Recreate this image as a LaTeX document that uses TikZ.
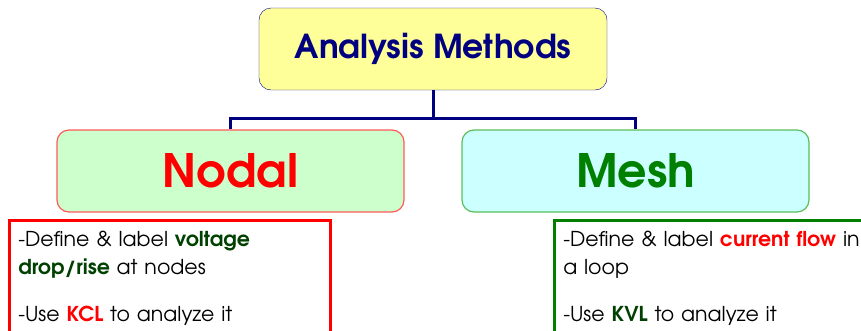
\documentclass[tikz,border=0pt]{standalone}
\usepackage{fontspec}
\setmainfont{TeX Gyre Adventor}
\usetikzlibrary{positioning}
\definecolor{navy}{RGB}{0,0,128}
\definecolor{paleyellow}{RGB}{255,255,153}
\definecolor{palegreen}{RGB}{204,255,204}
\definecolor{palecyan}{RGB}{204,255,255}
\definecolor{softred}{RGB}{255,90,90}
\definecolor{softgreen}{RGB}{90,190,90}
\definecolor{darkgreen}{RGB}{0,64,0}
\definecolor{meshgreen}{RGB}{0,128,0}
\begin{document}
\begin{tikzpicture}[x=1pt,y=-1pt,
  method/.style={rounded corners=12pt,line width=1.2pt,minimum width=347pt,minimum height=82pt,font=\bfseries\fontsize{46}{56}\selectfont},
  note/.style={line width=2.5pt,anchor=north west,inner xsep=9pt,inner ysep=11pt,align=left,font=\fontsize{20.5}{28}\selectfont},
  link/.style={navy,line width=3pt}]
  \clip (0,0) rectangle (861,330);
  \node[draw=navy,fill=paleyellow,rounded corners=12pt,minimum width=348pt,minimum height=82pt,text=navy,font=\bfseries\fontsize{33}{40}\selectfont] (title) at (433,49) {Analysis Methods};
  \node[method,draw=softred,fill=palegreen,text=red] (nodal) at (230.5,171) {Nodal};
  \node[method,draw=softgreen,fill=palecyan,text=meshgreen] (mesh) at (635.5,171) {Mesh};
  \coordinate (bus) at (433,118);
  \draw[link] (title.south) -- (title.south |- bus);
  \draw[link] (nodal.north) |- (bus) -| (mesh.north);
  % notes under each method
  \node[note,draw=red,text width=303pt] (nodalnote) at (8,219) {-Define \& label \textbf{\textcolor{darkgreen}{voltage}}\\
    \textbf{\textcolor{darkgreen}{drop/rise}} at nodes\\[19pt]
    -Use \textbf{\textcolor{red}{KCL}} to analyze it\\[30pt]\mbox{}};
  \node[note,draw=meshgreen,text width=330pt] (meshnote) at (553,219) {-Define \& label \textbf{\textcolor{red}{current flow}} in\\
    a loop\\[19pt]
    -Use \textbf{\textcolor{darkgreen}{KVL}} to analyze it\\[30pt]\mbox{}};
\end{tikzpicture}
\end{document}
